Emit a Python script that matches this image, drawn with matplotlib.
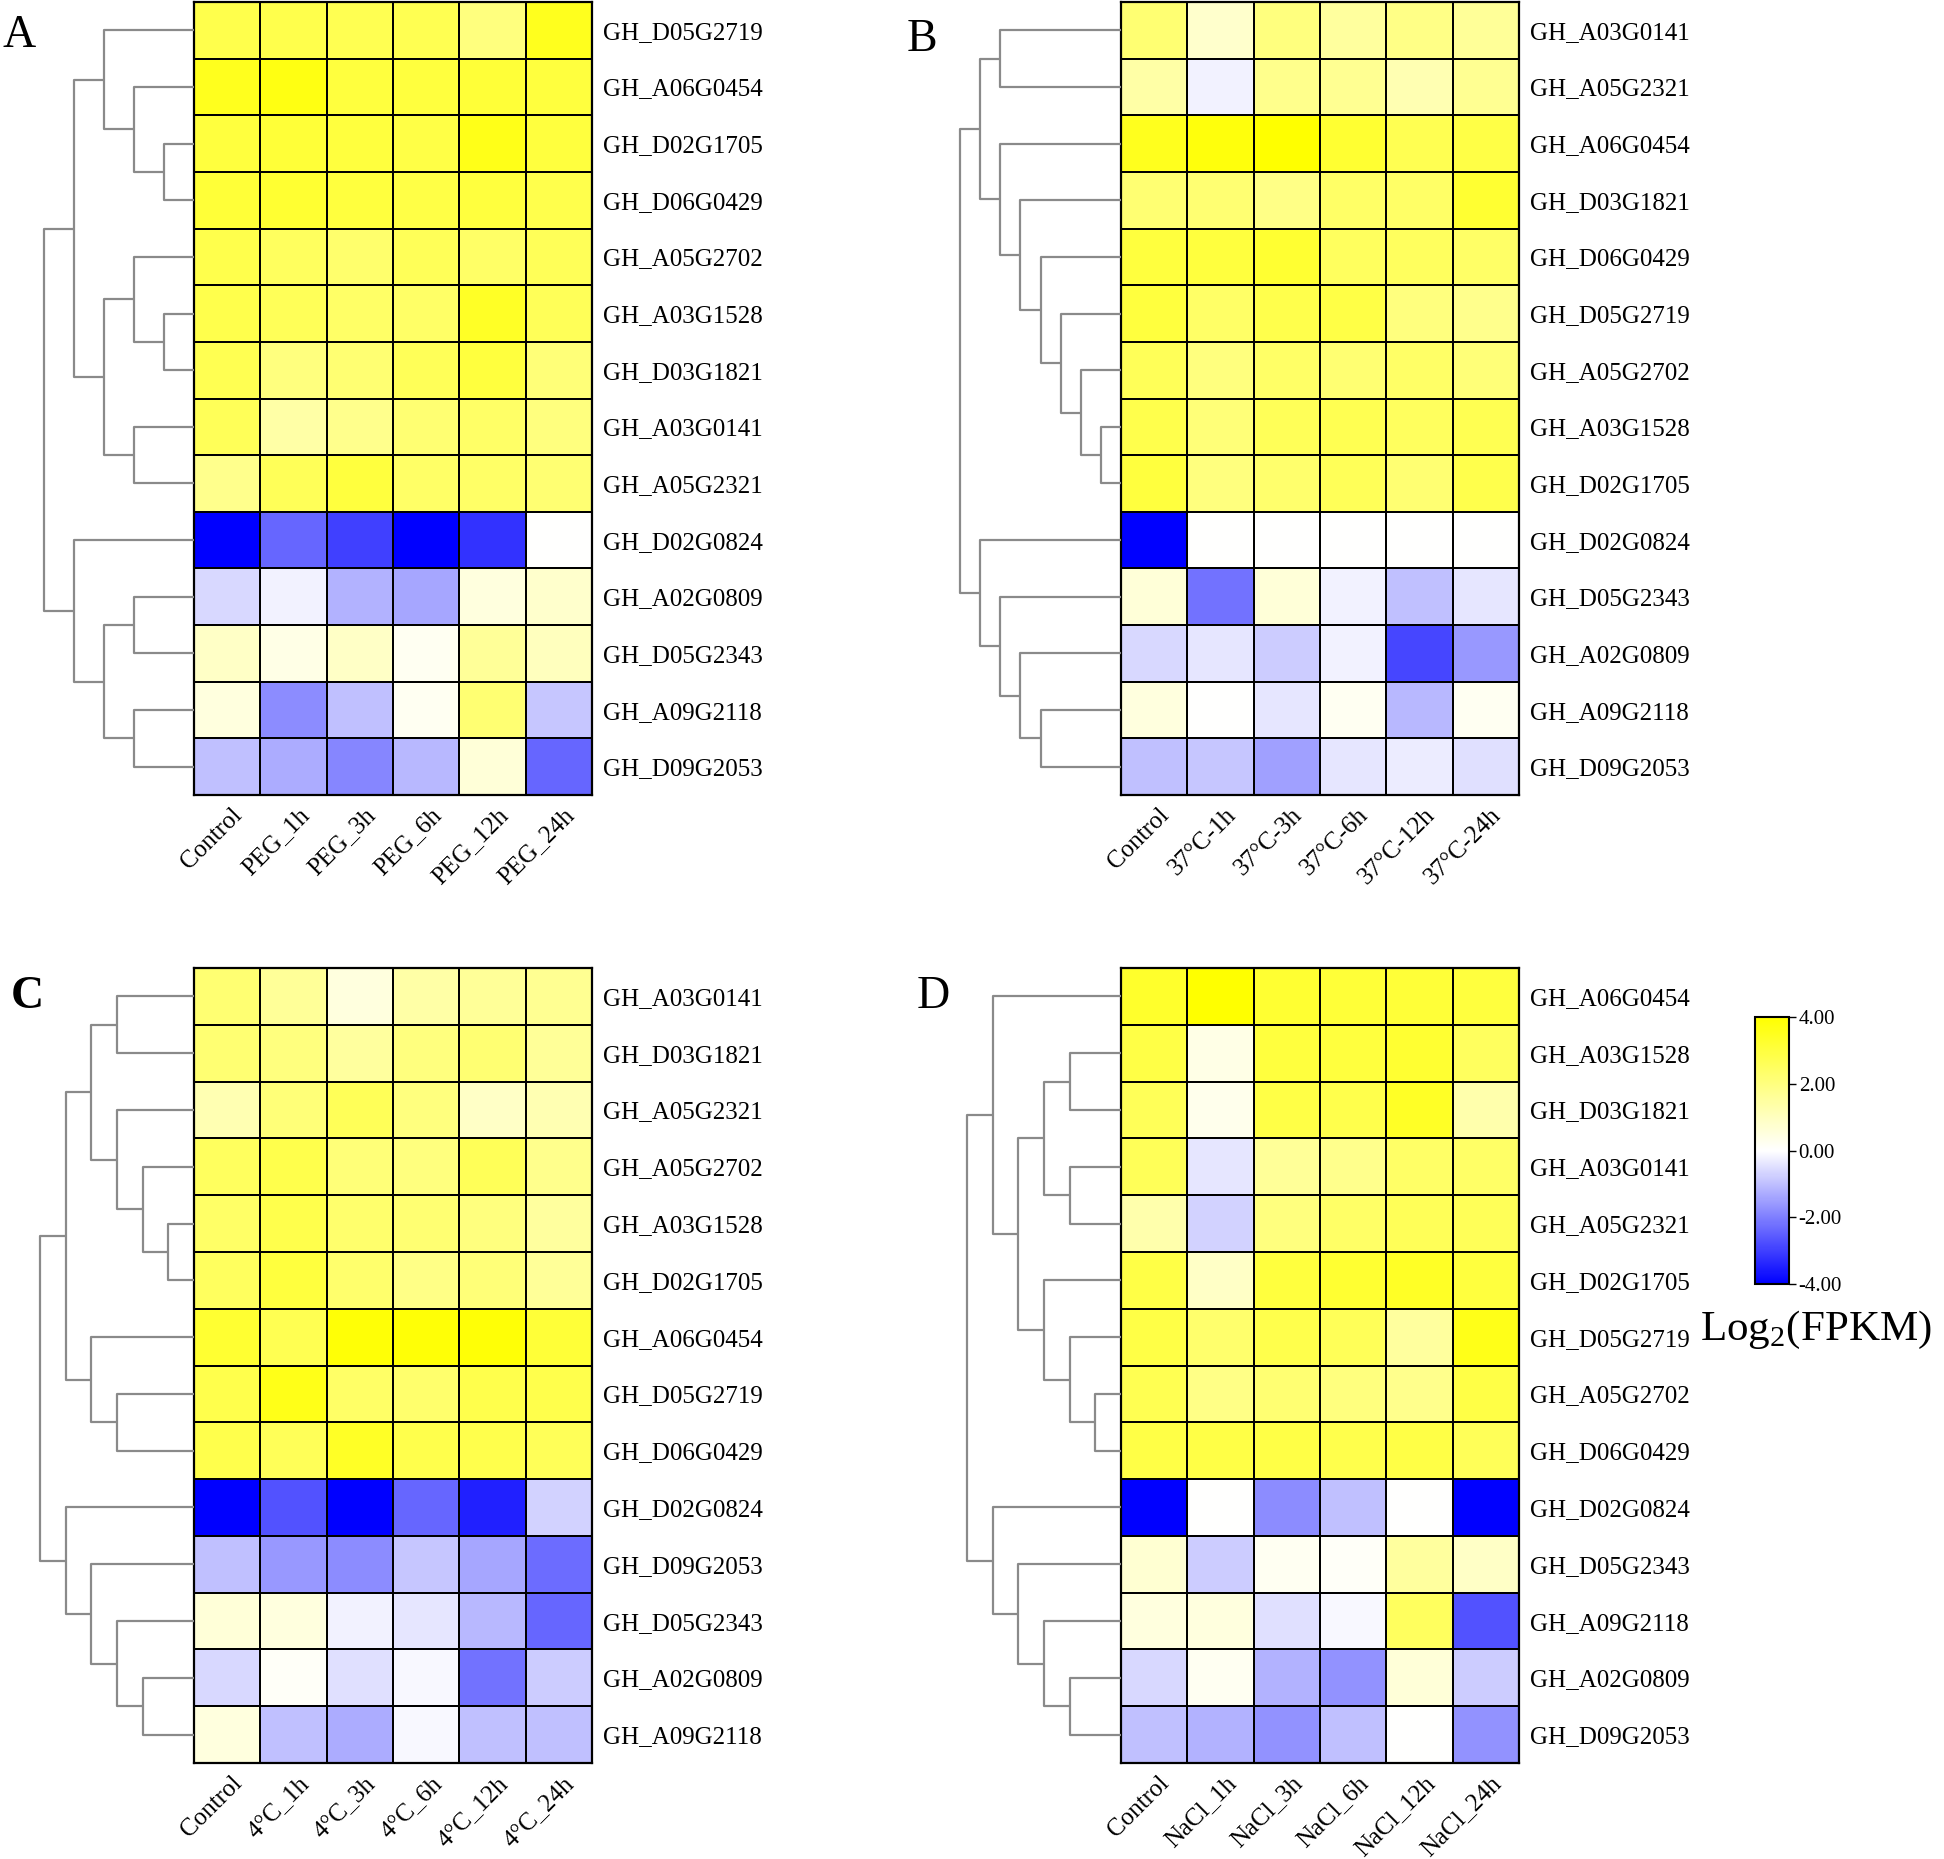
import matplotlib
matplotlib.use("Agg")
import matplotlib.pyplot as plt
import matplotlib.cm as cm
from matplotlib.colors import LinearSegmentedColormap, Normalize
import numpy as np

plt.rcParams['font.family'] = ['Liberation Serif', 'DejaVu Serif']
plt.rcParams['mathtext.fontset'] = 'custom'
plt.rcParams['mathtext.rm'] = 'Liberation Serif'

# ---- panel A: PEG ----
genes_a = ['GH_D05G2719', 'GH_A06G0454', 'GH_D02G1705', 'GH_D06G0429', 'GH_A05G2702',
           'GH_A03G1528', 'GH_D03G1821', 'GH_A03G0141', 'GH_A05G2321', 'GH_D02G0824',
           'GH_A02G0809', 'GH_D05G2343', 'GH_A09G2118', 'GH_D09G2053']
cols_a = ['Control', 'PEG_1h', 'PEG_3h', 'PEG_6h', 'PEG_12h', 'PEG_24h']
vals_a = [[2.8, 2.8, 2.7, 2.7, 2.0, 3.5],
          [3.5, 3.7, 3.0, 3.0, 3.1, 3.0],
          [3.0, 3.1, 3.0, 2.9, 3.6, 3.0],
          [3.1, 3.2, 3.0, 2.9, 3.0, 2.8],
          [2.8, 2.5, 2.3, 2.6, 2.4, 2.6],
          [2.8, 2.6, 2.4, 2.4, 3.4, 2.6],
          [2.7, 2.0, 2.2, 2.6, 3.0, 2.1],
          [2.6, 1.4, 1.8, 2.2, 2.4, 2.0],
          [1.8, 2.6, 3.0, 2.4, 2.4, 2.2],
          [-4.0, -2.4, -3.0, -4.0, -3.2, 0.0],
          [-0.6, -0.2, -1.2, -1.4, 0.5, 0.8],
          [0.9, 0.4, 0.9, 0.2, 1.6, 1.0],
          [0.5, -1.8, -1.0, 0.2, 2.2, -0.9],
          [-1.0, -1.3, -1.9, -1.1, 0.6, -2.4]]
# merges: (child, child, level); leaves are 0-13, new clusters numbered from 14
link_a = [(2, 3, 1), (1, 14, 2), (0, 15, 3), (5, 6, 1), (4, 17, 2), (7, 8, 2),
          (18, 19, 3), (16, 20, 4), (10, 11, 2), (12, 13, 2), (22, 23, 3),
          (9, 24, 4), (21, 25, 5)]

# ---- panel B: 37C ----
genes_b = ['GH_A03G0141', 'GH_A05G2321', 'GH_A06G0454', 'GH_D03G1821', 'GH_D06G0429',
           'GH_D05G2719', 'GH_A05G2702', 'GH_A03G1528', 'GH_D02G1705', 'GH_D02G0824',
           'GH_D05G2343', 'GH_A02G0809', 'GH_A09G2118', 'GH_D09G2053']
cols_b = ['Control', '37°C-1h', '37°C-3h', '37°C-6h', '37°C-12h', '37°C-24h']
vals_b = [[2.2, 0.8, 2.0, 1.5, 1.9, 1.6],
          [1.4, -0.2, 1.8, 1.7, 1.2, 1.7],
          [3.5, 3.8, 4.0, 3.2, 2.7, 2.9],
          [2.2, 2.2, 1.9, 2.4, 2.4, 3.2],
          [3.0, 3.0, 3.2, 2.5, 2.5, 2.4],
          [3.0, 2.4, 2.8, 2.9, 2.0, 1.8],
          [2.6, 2.0, 2.4, 2.2, 2.4, 2.1],
          [2.8, 2.1, 2.6, 2.7, 2.5, 2.7],
          [3.0, 2.0, 2.3, 2.6, 2.2, 2.8],
          [-4.0, 0.0, 0.0, 0.0, 0.0, 0.0],
          [0.6, -2.2, 0.6, -0.2, -1.0, -0.4],
          [-0.6, -0.4, -0.8, -0.2, -2.9, -1.6],
          [0.5, 0.0, -0.4, 0.2, -1.1, 0.2],
          [-1.0, -0.9, -1.5, -0.4, -0.3, -0.5]]
link_b = [(0, 1, 6), (7, 8, 1), (6, 15, 2), (5, 16, 3), (4, 17, 4), (3, 18, 5),
          (2, 19, 6), (14, 20, 7), (12, 13, 4), (11, 22, 5), (10, 23, 6),
          (9, 24, 7), (21, 25, 8)]

# ---- panel C: 4C ----
genes_c = ['GH_A03G0141', 'GH_D03G1821', 'GH_A05G2321', 'GH_A05G2702', 'GH_A03G1528',
           'GH_D02G1705', 'GH_A06G0454', 'GH_D05G2719', 'GH_D06G0429', 'GH_D02G0824',
           'GH_D09G2053', 'GH_D05G2343', 'GH_A02G0809', 'GH_A09G2118']
cols_c = ['Control', '4°C_1h', '4°C_3h', '4°C_6h', '4°C_12h', '4°C_24h']
vals_c = [[2.2, 1.6, 0.5, 1.4, 1.6, 1.7],
          [2.2, 2.0, 1.5, 2.0, 2.2, 1.6],
          [1.2, 2.1, 2.6, 2.0, 0.9, 1.2],
          [2.5, 2.8, 2.1, 2.0, 2.6, 1.8],
          [2.4, 2.8, 2.3, 2.2, 2.0, 1.5],
          [2.5, 3.0, 2.3, 1.9, 2.1, 1.6],
          [3.2, 2.7, 3.9, 3.9, 3.9, 3.1],
          [2.8, 3.6, 2.4, 2.3, 2.8, 2.8],
          [2.8, 2.6, 3.4, 2.8, 2.8, 2.6],
          [-4.0, -2.7, -4.0, -2.4, -3.5, -0.7],
          [-1.0, -1.6, -1.8, -0.9, -1.4, -2.3],
          [0.6, 0.5, -0.2, -0.4, -1.1, -2.4],
          [-0.6, 0.1, -0.5, -0.1, -2.2, -0.8],
          [0.5, -1.0, -1.3, -0.1, -1.0, -1.0]]
link_c = [(0, 1, 3), (4, 5, 1), (3, 15, 2), (2, 16, 3), (14, 17, 4), (7, 8, 3),
          (6, 19, 4), (18, 20, 5), (12, 13, 2), (11, 22, 3), (10, 23, 4),
          (9, 24, 5), (21, 25, 6)]

# ---- panel D: NaCl ----
genes_d = ['GH_A06G0454', 'GH_A03G1528', 'GH_D03G1821', 'GH_A03G0141', 'GH_A05G2321',
           'GH_D02G1705', 'GH_D05G2719', 'GH_A05G2702', 'GH_D06G0429', 'GH_D02G0824',
           'GH_D05G2343', 'GH_A09G2118', 'GH_A02G0809', 'GH_D09G2053']
cols_d = ['Control', 'NaCl_1h', 'NaCl_3h', 'NaCl_6h', 'NaCl_12h', 'NaCl_24h']
vals_d = [[3.3, 4.0, 3.2, 3.1, 3.1, 3.0],
          [2.9, 0.4, 3.0, 3.0, 3.2, 2.5],
          [2.6, 0.3, 2.9, 2.8, 3.4, 1.3],
          [2.6, -0.4, 1.6, 1.8, 2.4, 2.4],
          [1.3, -0.7, 2.0, 2.4, 2.6, 2.6],
          [2.9, 0.9, 3.0, 3.2, 3.4, 3.0],
          [2.9, 2.3, 2.8, 2.6, 1.5, 3.6],
          [2.7, 1.9, 2.2, 2.0, 1.8, 2.9],
          [2.9, 2.9, 2.9, 2.8, 2.9, 2.6],
          [-4.0, 0.0, -1.8, -1.0, 0.0, -4.0],
          [0.7, -0.8, 0.2, 0.1, 1.5, 0.9],
          [0.5, 0.5, -0.5, -0.1, 2.5, -2.7],
          [-0.6, 0.2, -1.2, -1.7, 0.6, -0.8],
          [-1.0, -1.2, -1.7, -1.0, 0.0, -1.7]]
link_d = [(1, 2, 2), (3, 4, 2), (14, 15, 3), (7, 8, 1), (6, 17, 2), (5, 18, 3),
          (16, 19, 4), (0, 20, 5), (12, 13, 2), (11, 22, 3), (10, 23, 4),
          (9, 24, 5), (21, 25, 6)]

W, H = 1944, 1859
cmap = LinearSegmentedColormap.from_list('byw', ['#0000ff', '#ffffff', '#ffff00'])
norm = Normalize(vmin=-4, vmax=4)


def box(x0, y0, x1, y1):
    # pixel box (top-left origin) -> figure fraction
    return [x0 / W, 1 - y1 / H, (x1 - x0) / W, (y1 - y0) / H]


def draw_dendro(ax, link, n):
    ys = [i + 0.5 for i in range(n)]
    hs = [0] * n
    for a, b, h in link:
        ax.plot([hs[a], h, h, hs[b]], [ys[a], ys[a], ys[b], ys[b]],
                color='#8a8a8a', lw=1.6, clip_on=False, solid_capstyle='butt')
        ys.append((ys[a] + ys[b]) / 2)
        hs.append(h)
    ax.set_xlim(link[-1][2], 0)
    ax.set_ylim(n, 0)
    ax.axis('off')


def draw_heat(ax, vals, genes, cols):
    data = np.array(vals)
    nr, nc = data.shape
    ax.pcolormesh(data, cmap=cmap, norm=norm, edgecolors='black', linewidth=1.3)
    ax.set_xlim(0, nc)
    ax.set_ylim(nr, 0)
    ax.yaxis.tick_right()
    ax.set_yticks(np.arange(nr) + 0.5)
    ax.set_yticklabels(genes, fontsize=18)
    ax.tick_params(axis='y', length=0, pad=8)
    ax.set_xticks([])
    for s in ax.spines.values():
        s.set_linewidth(1.6)
    for j, c in enumerate(cols):
        ax.annotate(c, xy=(j + 0.5, nr), xytext=(12, -17), textcoords='offset pixels',
                    rotation=45, rotation_mode='anchor', ha='right', va='center',
                    fontsize=18, annotation_clip=False)


fig = plt.figure(figsize=(W / 100, H / 100), dpi=100)

panels = [
    (vals_a, genes_a, cols_a, link_a, (194, 2, 592, 795), 150, 'A', (2, 36), 'normal'),
    (vals_b, genes_b, cols_b, link_b, (1121, 2, 1519, 795), 161, 'B', (907, 40), 'normal'),
    (vals_c, genes_c, cols_c, link_c, (194, 968, 592, 1763), 154, 'C', (11, 997), 'bold'),
    (vals_d, genes_d, cols_d, link_d, (1121, 968, 1519, 1763), 154, 'D', (917, 997), 'normal'),
]

for vals, genes, cols, link, hb, dw, letter, lp, lw in panels:
    ax = fig.add_axes(box(*hb))
    draw_heat(ax, vals, genes, cols)
    dax = fig.add_axes(box(hb[0] - dw, hb[1], hb[0], hb[3]))
    draw_dendro(dax, link, len(genes))
    fig.text(lp[0] / W, 1 - lp[1] / H, letter, fontsize=33, fontweight=lw,
             ha='left', va='center')

# colour bar
cax = fig.add_axes(box(1755, 1017, 1789, 1284))
cb = fig.colorbar(cm.ScalarMappable(norm=norm, cmap=cmap), cax=cax, ticks=[-4, -2, 0, 2, 4])
cb.ax.set_yticklabels(['-4.00', '-2.00', '0.00', '2.00', '4.00'], fontsize=15)
cb.outline.set_linewidth(1.5)
cb.ax.tick_params(length=5, width=1, pad=2)
fig.text(1700 / W, 1 - 1330 / H, 'Log$_2$(FPKM)', fontsize=31, ha='left', va='center')

fig.savefig('out.png', dpi=100)
